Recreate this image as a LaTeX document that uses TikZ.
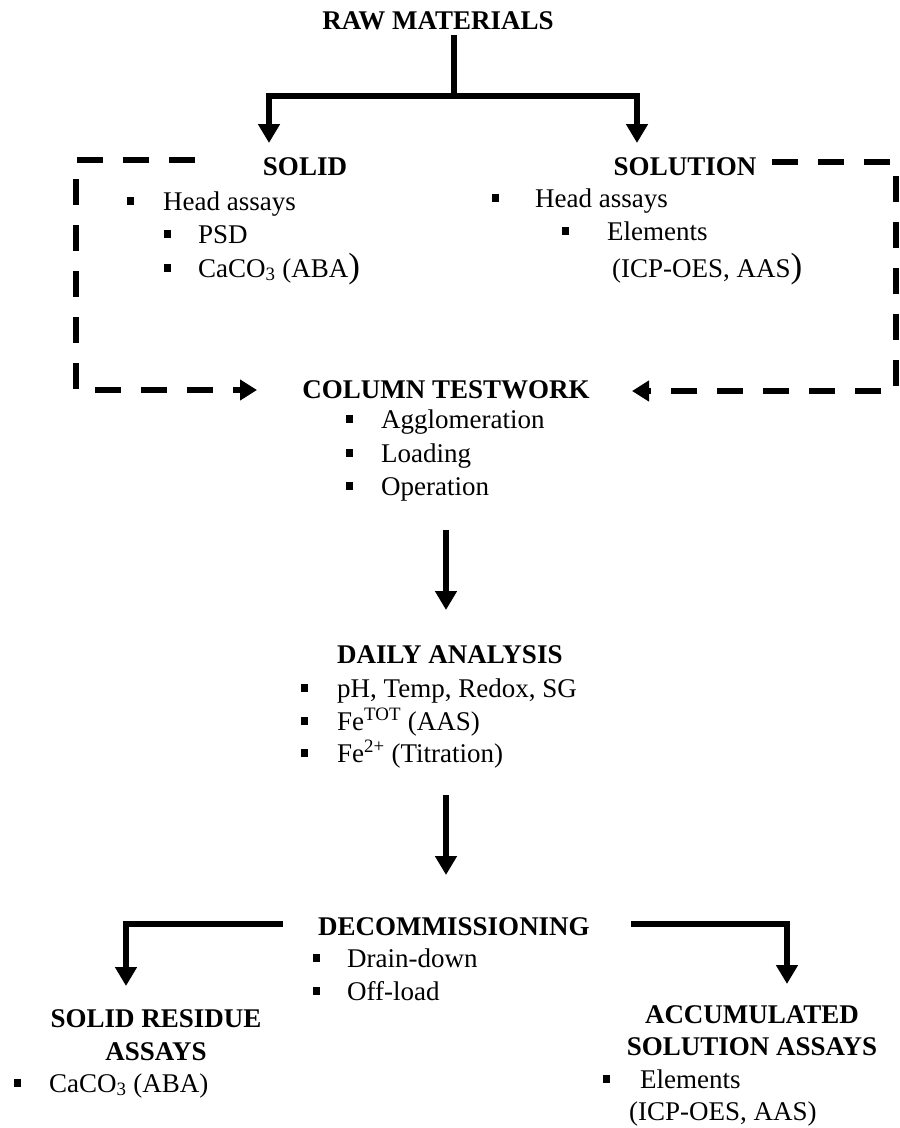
\documentclass[tikz,border=0pt]{standalone}
\usepackage{fontspec}
\setmainfont{Liberation Serif}
\usetikzlibrary{arrows.meta}
\newcommand\bsq[2]{\fill ({#1-3.5},{#2-13}) rectangle ({#1+3.5},{#2-5});}
\newcommand\bigpar{{\fontsize{35}{35}\selectfont )}}
\begin{document}
\begin{tikzpicture}[x=1pt,y=-1pt,
  head/.style={font=\fontsize{27}{30}\selectfont\bfseries, inner sep=0pt, anchor=base},
  txt/.style={font=\fontsize{27}{30}\selectfont, inner sep=0pt, anchor=base west},
  conn/.style={line width=6pt, line join=miter},
  arr/.style={line width=5.5pt, line join=miter, -{Triangle[width=21pt,length=19pt]}},
  dashedarrow/.style={line width=5.5pt, line join=miter, dash pattern=on 26pt off 20pt, -{Triangle[width=20pt,length=17pt]}}]
\useasboundingbox (0,0) rectangle (900,1128);
\fill[white] (0,0) rectangle (900,1128);

% top
\node[head] (raw) at (438,29) {RAW MATERIALS};
\coordinate (rawj) at (454,96);
\coordinate (soltip) at (269,143);
\coordinate (solntip) at (637,143);
\draw[conn] ([yshift=-5pt]raw.south -| rawj) -- (rawj);
\draw[arr] (rawj) -| (soltip);
\draw[arr] (rawj) -| (solntip);

% solid
\node[head] (solid) at (305,175) {SOLID};
\bsq{130}{210}
\node[txt] (s1) at (163,210) {Head assays};
\bsq{167}{243}
\node[txt] (s2) at (198,243) {PSD};
\bsq{167}{277}
\node[txt] (s3) at (198,277) {CaCO\textsubscript{3} (ABA\bigpar};

% solution
\node[head] (soln) at (685,175) {SOLUTION};
\bsq{495}{207}
\node[txt] (l1) at (535,207) {Head assays};
\bsq{565}{240}
\node[txt] (l2) at (607,240) {Elements};
\node[txt] (l3) at (612,277) {(ICP-OES, AAS\bigpar};

% column testwork
\node[head] (col) at (446,398) {COLUMN TESTWORK};
\bsq{349}{428}
\node[txt] (c1) at (381,428) {Agglomeration};
\bsq{349}{462}
\node[txt] (c2) at (381,462) {Loading};
\bsq{349}{495}
\node[txt] (c3) at (381,495) {Operation};

% dashed feeds
\coordinate (dlstart) at (195,160);
\coordinate (dlc1) at (76,160);
\coordinate (dlc2) at (76,390);
\coordinate (dltip) at (257,390);
\draw[dashedarrow] (dlstart) -- (dlc1) -- (dlc2) -- (dltip);
\coordinate (drstart) at (772,162);
\coordinate (drc1) at (896,162);
\coordinate (drc2) at (896,391);
\coordinate (drtip) at (632,391);
\draw[dashedarrow] (drstart) -- (drc1) -- (drc2) -- (drtip);

% arrow to daily
\coordinate (a1s) at (446,530);
\coordinate (a1e) at (446,610);
\draw[arr] (a1s) -- (a1e);

% daily analysis
\node[head, anchor=base west] (daily) at (337,663) {DAILY ANALYSIS};
\bsq{304}{697}
\node[txt] (d1) at (337,697) {pH, Temp, Redox, SG};
\bsq{304}{730}
\node[txt] (d2) at (337,730) {Fe\textsuperscript{TOT} (AAS)};
\bsq{304}{762}
\node[txt] (d3) at (337,762) {Fe\textsuperscript{2+} (Titration)};

% arrow to decommissioning
\coordinate (a2s) at (446,795);
\coordinate (a2e) at (446,875);
\draw[arr] (a2s) -- (a2e);

% decommissioning
\node[head] (dec) at (454,935) {DECOMMISSIONING};
\bsq{316}{967}
\node[txt] (e1) at (347,967) {Drain-down};
\bsq{316}{1000}
\node[txt] (e2) at (347,1000) {Off-load};

\coordinate (decl) at (283,924);
\coordinate (srtip) at (126,986);
\coordinate (decr) at (631,924);
\coordinate (astip) at (787,984);
\draw[arr] (decl) -| (srtip);
\draw[arr] (decr) -| (astip);

% solid residue
\node[head] (sr1) at (156,1027) {SOLID RESIDUE};
\node[head] (sr2) at (156,1060) {ASSAYS};
\bsq{17}{1092}
\node[txt] (sr3) at (49,1092) {CaCO\textsubscript{3} (ABA)};

% accumulated solution
\node[head] (as1) at (752,1023) {ACCUMULATED};
\node[head] (as2) at (752,1055) {SOLUTION ASSAYS};
\bsq{606}{1088}
\node[txt] (as3) at (640,1088) {Elements};
\node[txt] (as4) at (629,1120) {(ICP-OES, AAS)};
\end{tikzpicture}
\end{document}
